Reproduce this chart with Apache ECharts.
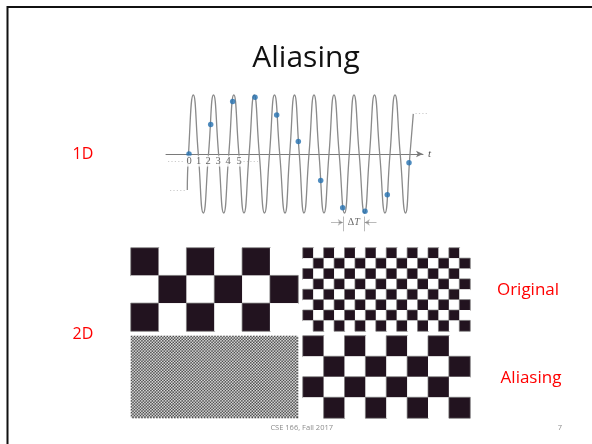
<!DOCTYPE html>
<html><head><meta charset="utf-8">
<script src="https://cdn.jsdelivr.net/npm/echarts@6/dist/echarts.min.js"></script>
<style>html,body{margin:0;padding:0;background:#fff}#c{width:592px;height:444px}</style>
</head><body><div id="c"></div>
<script>
// ---- 1D signal (t in axis-label units, value in amplitude units) ----
const wavePoints = [[-0.17,-0.61],[-0.05,0],[0.43,1],[0.93,0],[1.43,-1],[1.95,0],[2.45,1],[2.96,0],[3.47,-1],[3.98,0],[4.48,1],[4.99,0],[5.5,-1],[6.01,0],[6.52,1],[7.03,0],[7.55,-1],[8.05,0],[8.55,1],[9.07,0],[9.6,-1],[10.07,0],[10.55,1],[11.03,0],[11.5,-1],[12.0,0],[12.5,1],[13.0,0],[13.5,-1],[14.0,0],[14.5,1],[15.02,0],[15.55,-1],[16.03,0],[16.5,1],[17.02,0],[17.55,-1],[18.05,0],[18.55,1],[19.07,0],[19.6,-1],[20.1,0],[20.6,1],[21.12,0],[21.65,-1],[22.1,0],[22.43,0.68]];
const sampleT = [0, 2.17, 4.37, 6.6, 8.77, 10.93, 13.17, 15.37, 17.6, 19.83, 22.0];
const sampleV = [0, 0.5, 0.89, 0.96, 0.66, 0.21, -0.45, -0.91, -0.97, -0.69, -0.15];
const tickLabels = ['0','1','2','3','4','5'];
const tickPos = [0, 0.95, 1.9, 2.9, 3.9, 5.0];
const deltaT = [15.43, 17.53];

// ---- 2D checkerboards (1 = dark square) ----
const coarseOriginal = ['101010','010101','101010'];
const fineOriginal = ['1010101010101010','0101010101010101','1010101010101010','0101010101010101','1010101010101010','0101010101010101','1010101010101010','0101010101010101'];
const coarseAliased = ['10101010','01010101','10101010','01010101'];
const fineAliasedCols = 112, fineAliasedRows = 56;

function rowsToCells(rows,border){const d=[];rows.forEach((r,y)=>{for(let x=0;x<r.length;x++){const v=+r[x];d.push(v&&border?{value:[x,y,v],itemStyle:{borderColor:'#7a7a7a',borderWidth:0.7}}:[x,y,v]);}});return d;}
const fineAliasedRowsArr=[];for(let y=0;y<fineAliasedRows;y++){let s='';for(let x=0;x<fineAliasedCols;x++)s+=((x+y)%2===0?'1':'0');fineAliasedRowsArr.push(s);}

const boards=[coarseOriginal,fineOriginal,fineAliasedRowsArr,coarseAliased];
const DARK='#22131f';
const chart=echarts.init(document.getElementById('c'));
const grids=[{left:166,top:95,width:257,height:118},{left:131,top:248,width:167,height:83},{left:303,top:248,width:167,height:83},{left:131,top:336,width:167,height:82},{left:303,top:336,width:167,height:82}];
const xAxes=[{type:'value',gridIndex:0,min:-2.3,max:23.4,
  axisLine:{onZero:true,symbol:['none','arrow'],symbolSize:[5,7],lineStyle:{color:'#7a7a7a',width:1}},
  axisTick:{show:false},axisLabel:{show:false},splitLine:{show:false},
  name:'t',nameGap:5,nameTextStyle:{fontFamily:'Liberation Serif',fontStyle:'italic',fontSize:11,color:'#555'}}];
const yAxes=[{type:'value',gridIndex:0,min:-1,max:1,show:false}];
const series=[];
boards.forEach((rows,i)=>{
  const cols=rows[0].length;
  xAxes.push({type:'category',gridIndex:i+1,data:Array.from({length:cols},(_,k)=>k),show:false});
  yAxes.push({type:'category',gridIndex:i+1,inverse:true,data:rows.map((_,k)=>k),show:false});
  series.push({type:'heatmap',xAxisIndex:i+1,yAxisIndex:i+1,data:rowsToCells(rows,i!==2),
    emphasis:{disabled:true},silent:true});
});
series.push({type:'line',xAxisIndex:0,yAxisIndex:0,data:wavePoints,smooth:0.55,showSymbol:false,clip:false,
  lineStyle:{color:'#8a8a8a',width:1.3},z:2,silent:true});
series.push({type:'scatter',xAxisIndex:0,yAxisIndex:0,data:sampleT.map((t,i)=>[t,sampleV[i]]),symbolSize:5.5,
  itemStyle:{color:'#2470b0'},z:5,clip:false,silent:true});
series.push({type:'scatter',xAxisIndex:0,yAxisIndex:0,symbolSize:0,clip:false,silent:true,z:6,
  data:tickLabels.map((s,i)=>({value:[tickPos[i],-0.12],name:s})),
  label:{show:true,position:'inside',formatter:p=>p.name,fontFamily:'Liberation Serif',fontSize:10.5,color:'#444',backgroundColor:'#fff',padding:[0,0.5]}});
series.push({type:'scatter',xAxisIndex:0,yAxisIndex:0,symbolSize:0,clip:false,silent:true,
  data:[{value:[(deltaT[0]+deltaT[1])/2,-1.16],name:'dT'}],
  label:{show:true,position:'inside',formatter:'{a|Δ}{b|T}',rich:{a:{fontFamily:'Liberation Serif',fontSize:10,color:'#444'},b:{fontFamily:'Liberation Serif',fontStyle:'italic',fontSize:10,color:'#444'}}}});
const dotted={color:'#9a9a9a',width:1,type:[1.2,2.2]};
series.push({type:'lines',coordinateSystem:'cartesian2d',xAxisIndex:0,yAxisIndex:0,clip:false,silent:true,
  lineStyle:dotted,symbol:'none',
  data:[{coords:[[-2.1,-0.12],[-0.45,-0.12]]},{coords:[[5.45,-0.12],[6.9,-0.12]]},{coords:[[-1.9,-0.61],[-0.4,-0.61]]},{coords:[[22.65,0.69],[23.8,0.69]]}]});
series.push({type:'lines',coordinateSystem:'cartesian2d',xAxisIndex:0,yAxisIndex:0,clip:false,silent:true,
  lineStyle:{color:'#666',width:0.9},symbol:'none',
  data:[{coords:[[deltaT[0],-1.06],[deltaT[0],-1.31]]},{coords:[[deltaT[1],-1.06],[deltaT[1],-1.31]]}]});
series.push({type:'lines',coordinateSystem:'cartesian2d',xAxisIndex:0,yAxisIndex:0,clip:false,silent:true,
  lineStyle:{color:'#666',width:0.9},symbol:['none','arrow'],symbolSize:5,
  data:[{coords:[[14.2,-1.16],[deltaT[0]-0.05,-1.16]]},{coords:[[18.75,-1.16],[deltaT[1]+0.05,-1.16]]}]});

const txt=(t,x,y,size,color)=>({type:'text',x:x,y:y,silent:true,style:{text:t,fontFamily:'Open Sans',fontSize:size,fill:color,textAlign:'center',textVerticalAlign:'middle'}});
chart.setOption({
  animation:false,backgroundColor:'#fff',
  grid:grids,xAxis:xAxes,yAxis:yAxes,
  visualMap:[
    {type:'piecewise',show:false,seriesIndex:[0,1,3],pieces:[{value:1,color:DARK},{value:0,color:'#ffffff'}]},
    {type:'piecewise',show:false,seriesIndex:[2],pieces:[{value:1,color:'#4a4a4a'},{value:0,color:'#dedede'}]}
  ],
  series:series,
  graphic:[
    {type:'rect',shape:{x:7.5,y:7,width:600,height:450},style:{fill:'none',stroke:'#111',lineWidth:2},silent:true},
    txt('Aliasing',306,58.5,30,'#111'),
    txt('1D',83,154.5,16,'#ff0000'),
    txt('2D',83,334.5,16,'#ff0000'),
    txt('Original',528,290.5,17,'#ff0000'),
    txt('Aliasing',531,377.8,17,'#ff0000'),
    txt('CSE 166, Fall 2017',301.7,428,7.5,'#8c8c8c'),
    txt('7',560,428,7.5,'#8c8c8c')
  ]
});
</script></body></html>
